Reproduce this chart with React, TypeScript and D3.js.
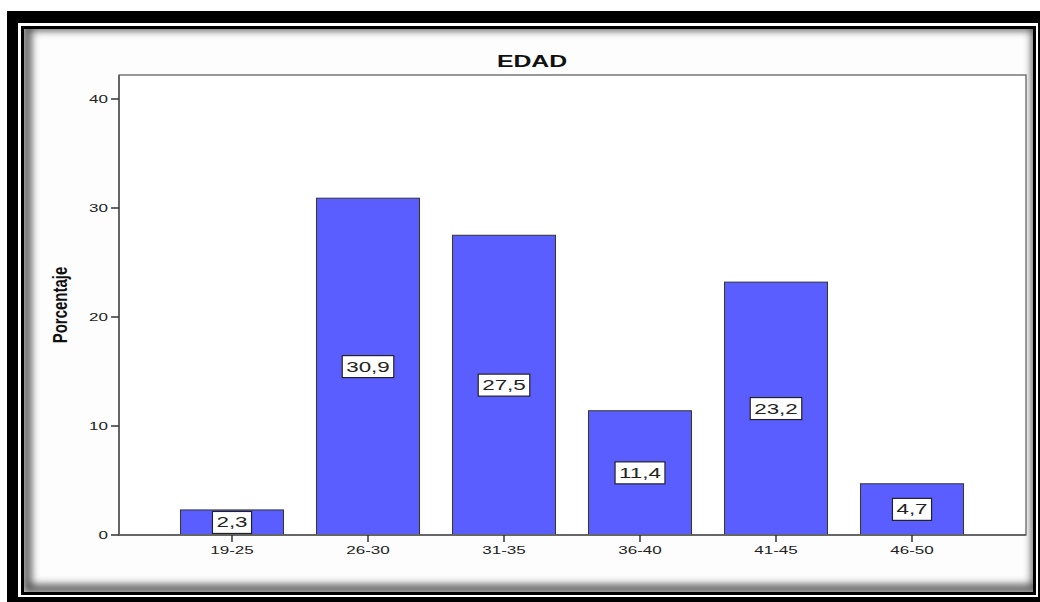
import { useEffect, useRef } from "react";
import * as d3 from "d3";

const categories = ["19-25", "26-30", "31-35", "36-40", "41-45", "46-50"];
const percentages = [2.3, 30.9, 27.5, 11.4, 23.2, 4.7];
const yTicks = [0, 10, 20, 30, 40];
const chartTitle = "EDAD";
const yTitle = "Porcentaje";

const W = 1040, H = 602;
const FONT = "'Liberation Sans', Arial, sans-serif";
const SX = 1.55; // the source picture is stretched horizontally

const App = () => {
    const ref = useRef<SVGSVGElement>(null);

    useEffect(() => {
        const svg = d3.select(ref.current);
        svg.selectAll("*").remove();

        var plot = { left: 119, right: 1026, top: 75, bottom: 535 };

        // frame
        svg.append("rect").attr("width", W).attr("height", H).attr("fill", "#fff");
        svg.append("rect").attr("x", 7).attr("y", 11).attr("width", W).attr("height", H).attr("fill", "#000");
        svg.append("rect").attr("x", 18).attr("y", 23).attr("width", 1020).attr("height", 574).attr("fill", "#fff");
        svg.append("rect").attr("x", 21).attr("y", 26).attr("width", 1015).attr("height", 569).attr("fill", "#000");

        const defs = svg.append("defs");
        defs.append("clipPath").attr("id", "panelClip")
            .append("rect").attr("x", 24).attr("y", 29).attr("width", 1009).attr("height", 563);
        defs.append("filter").attr("id", "blur").attr("x", "-10%").attr("y", "-10%").attr("width", "120%").attr("height", "120%")
            .append("feGaussianBlur").attr("stdDeviation", 4);

        svg.append("rect").attr("x", 24).attr("y", 29).attr("width", 1009).attr("height", 563).attr("fill", "#fdfdfd");
        svg.append("g").attr("clip-path", "url(#panelClip)")
            .append("rect")
            .attr("x", 24).attr("y", 29).attr("width", 1009).attr("height", 563)
            .attr("transform", "translate(3,-3)")
            .attr("fill", "none").attr("stroke", "#000").attr("stroke-width", 8)
            .attr("opacity", 0.75)
            .attr("filter", "url(#blur)");

        // scales
        var x = d3.scaleBand()
            .domain(categories)
            .range([164, 980])
            .paddingInner(0.243)
            .paddingOuter(0.1215);
        var y = d3.scaleLinear().domain([0, 40]).range([plot.bottom, 99]);

        // plot box
        svg.append("rect")
            .attr("x", plot.left).attr("y", plot.top)
            .attr("width", plot.right - plot.left).attr("height", plot.bottom - plot.top)
            .attr("fill", "#fff").attr("stroke", "#555").attr("stroke-width", 1.2);

        // bars
        svg.selectAll(".bar")
            .data(percentages)
            .enter()
            .append("rect")
            .attr("x", (_d, i) => x(categories[i]) as number)
            .attr("y", d => y(d))
            .attr("width", x.bandwidth())
            .attr("height", d => y(0) - y(d))
            .attr("fill", "#5b5eff")
            .attr("stroke", "#333")
            .attr("stroke-width", 1);

        // axes
        const axisColor = "#666";
        svg.append("line").attr("x1", plot.left).attr("x2", plot.left)
            .attr("y1", plot.top).attr("y2", plot.bottom + 1)
            .attr("stroke", axisColor).attr("stroke-width", 2);
        svg.append("line").attr("x1", plot.left).attr("x2", plot.right)
            .attr("y1", plot.bottom).attr("y2", plot.bottom)
            .attr("stroke", axisColor).attr("stroke-width", 2);

        const yg = svg.append("g");
        yTicks.forEach(t => {
            yg.append("line").attr("x1", plot.left - 8).attr("x2", plot.left)
                .attr("y1", y(t)).attr("y2", y(t))
                .attr("stroke", "#333").attr("stroke-width", 1.5);
            yg.append("text")
                .attr("transform", `translate(${plot.left - 11},${y(t) + 4}) scale(${SX},1)`)
                .attr("text-anchor", "end")
                .attr("font-family", FONT).attr("font-size", 11).attr("fill", "#222")
                .text(t);
        });

        const xg = svg.append("g");
        categories.forEach(c => {
            const cx = (x(c) as number) + x.bandwidth() / 2;
            xg.append("line").attr("x1", cx).attr("x2", cx)
                .attr("y1", plot.bottom).attr("y2", plot.bottom + 7)
                .attr("stroke", "#333").attr("stroke-width", 1.5);
            xg.append("text")
                .attr("transform", `translate(${cx},${plot.bottom + 19}) scale(${SX},1)`)
                .attr("text-anchor", "middle")
                .attr("font-family", FONT).attr("font-size", 11).attr("fill", "#222")
                .text(c);
        });

        // value labels
        percentages.forEach((v, i) => {
            const cx = (x(categories[i]) as number) + x.bandwidth() / 2;
            const cy = (y(v) + y(0)) / 2;
            const g = svg.append("g");
            const box = g.append("rect");
            const txt = g.append("text")
                .attr("transform", `translate(${cx},${cy + 5}) scale(1.6,1)`)
                .attr("text-anchor", "middle")
                .attr("font-family", FONT).attr("font-size", 14).attr("fill", "#222")
                .text(String(v).replace(".", ","));
            const tw = (txt.node() as SVGTextElement).getComputedTextLength() * 1.6;
            const bw = tw + 8, bh = 22;
            box.attr("x", cx - bw / 2).attr("y", cy - bh / 2)
                .attr("width", bw).attr("height", bh)
                .attr("fill", "#fff").attr("stroke", "#222").attr("stroke-width", 1.2);
        });

        // titles
        svg.append("text")
            .attr("transform", `translate(532,67) scale(${SX},1)`)
            .attr("text-anchor", "middle")
            .attr("font-family", FONT).attr("font-size", 16).attr("font-weight", "bold").attr("fill", "#111")
            .text(chartTitle);

        svg.append("text")
            .attr("transform", "translate(67,305) rotate(-90) scale(1,1.3)")
            .attr("text-anchor", "middle")
            .attr("font-family", FONT).attr("font-size", 15).attr("font-weight", "bold").attr("fill", "#111")
            .text(yTitle);
    }, []);

    return (
        <svg ref={ref} width={W} height={H} style={{ position: "absolute", left: 0, top: 0 }} />
    );
};

export default App;
